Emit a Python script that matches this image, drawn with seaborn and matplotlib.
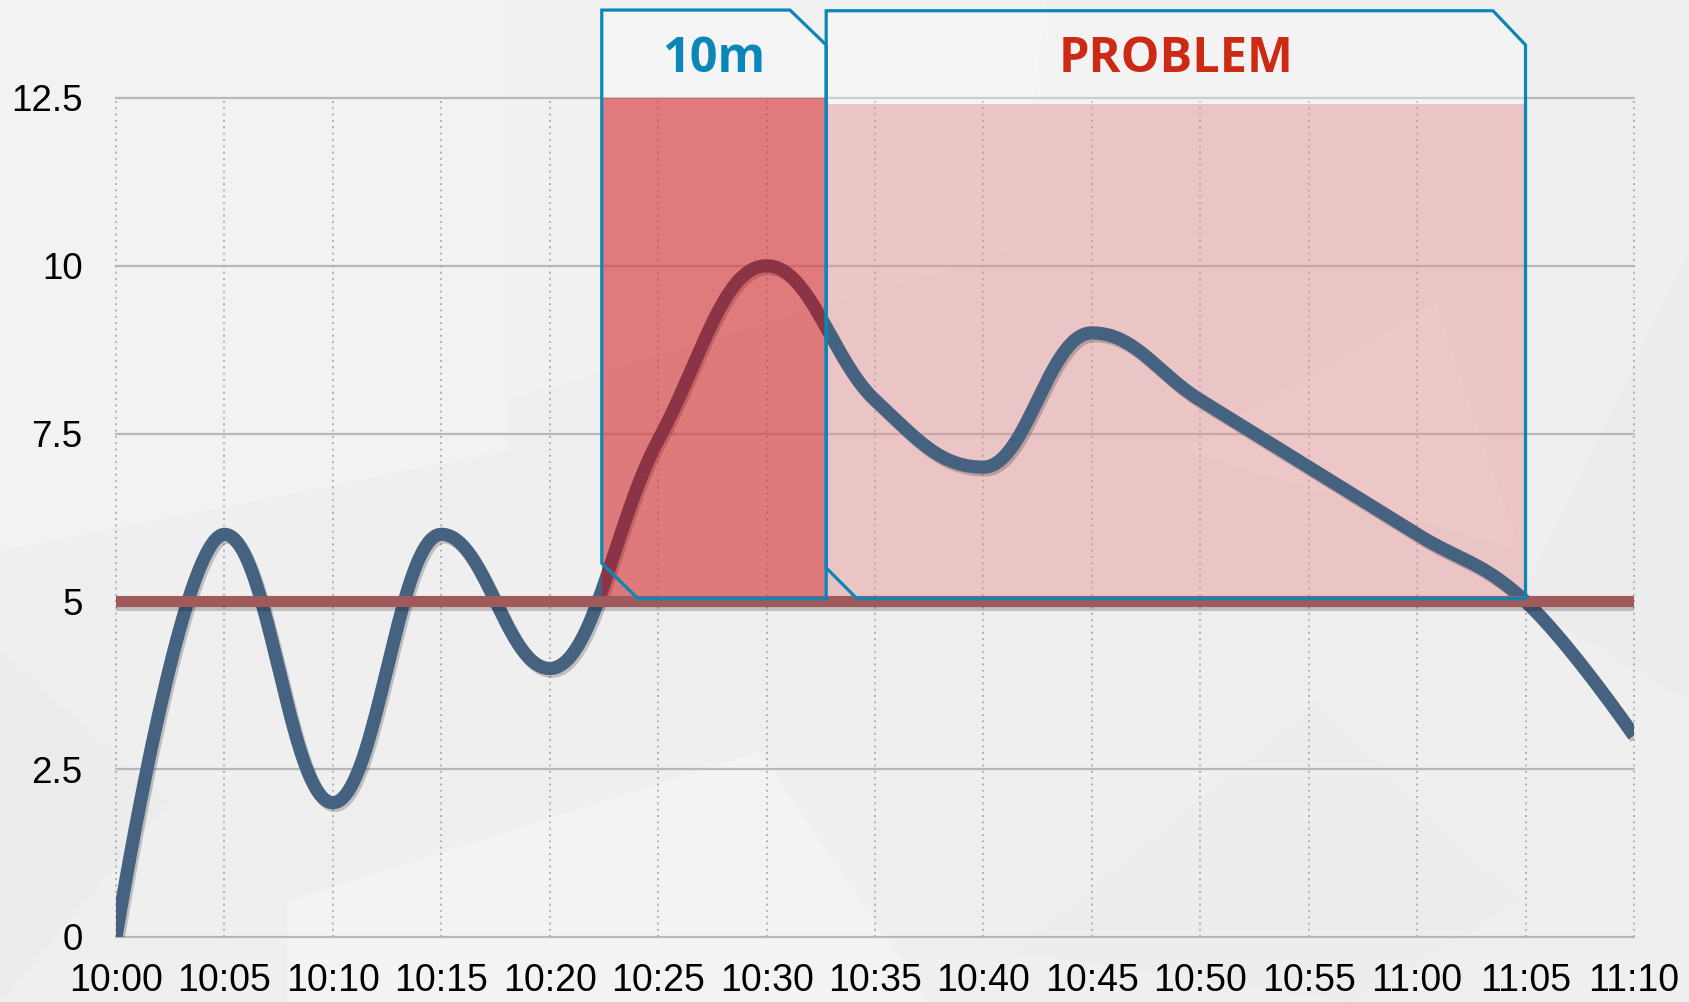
import numpy as np
import pandas as pd
import seaborn as sns
import matplotlib.pyplot as plt
from matplotlib.patches import Polygon, Rectangle
import matplotlib.patheffects as pe

# data (minutes after 10:00)
minutes = [0, 5, 10, 15, 20, 25, 30, 35, 40, 45, 50, 55, 60, 65, 70]
values = [0, 6, 2, 6, 4, 7.4, 10, 8, 7, 9, 8, 7, 6, 5, 3]
tick_labels = ['10:00', '10:05', '10:10', '10:15', '10:20', '10:25', '10:30', '10:35',
               '10:40', '10:45', '10:50', '10:55', '11:00', '11:05', '11:10']
y_ticks = [0, 2.5, 5, 7.5, 10, 12.5]
y_tick_labels = ['0', '2.5', '5', '7.5', '10', '12.5']
threshold = 5
alert_start = 22.4      # line crosses threshold
alert_end = 32.75       # +10m
problem_end = 65


# Highcharts-like spline (bezier control points, no overshoot at extremes)
def spline_xy(xs, ys, smoothing=1.5, steps=40):
    n = len(xs)
    denom = smoothing + 1
    left = [(xs[i], ys[i]) for i in range(n)]
    right = [(xs[i], ys[i]) for i in range(n)]
    for i in range(1, n - 1):
        px, py = xs[i], ys[i]
        lx, ly = xs[i - 1], ys[i - 1]
        nx, ny = xs[i + 1], ys[i + 1]
        lcx = (smoothing * px + lx) / denom
        lcy = (smoothing * py + ly) / denom
        rcx = (smoothing * px + nx) / denom
        rcy = (smoothing * py + ny) / denom
        if rcx != lcx:
            corr = ((rcy - lcy) * (rcx - px)) / (rcx - lcx) + py - rcy
            lcy += corr
            rcy += corr
        if lcy > max(ly, py):
            lcy = max(ly, py)
            rcy = 2 * py - lcy
        elif lcy < min(ly, py):
            lcy = min(ly, py)
            rcy = 2 * py - lcy
        if rcy > max(ny, py):
            rcy = max(ny, py)
            lcy = 2 * py - rcy
        elif rcy < min(ny, py):
            rcy = min(ny, py)
            lcy = 2 * py - rcy
        left[i] = (lcx, lcy)
        right[i] = (rcx, rcy)
    t = np.linspace(0, 1, steps)[:, None]
    out = []
    for i in range(n - 1):
        p0 = np.array([xs[i], ys[i]])
        p1 = np.array(right[i])
        p2 = np.array(left[i + 1])
        p3 = np.array([xs[i + 1], ys[i + 1]])
        seg = (1 - t) ** 3 * p0 + 3 * (1 - t) ** 2 * t * p1 + 3 * (1 - t) * t ** 2 * p2 + t ** 3 * p3
        out.append(seg if i == 0 else seg[1:])
    out = np.vstack(out)
    return out[:, 0], out[:, 1]


sns.set_style('white')
plt.rcParams['font.family'] = ['Liberation Sans', 'DejaVu Sans']

fig = plt.figure(figsize=(16.89, 10.02), dpi=100)
fig.patch.set_facecolor('#efefef')

# very faint faceted background
bg = fig.add_axes([0, 0, 1, 1], zorder=-10)
bg.set_xlim(0, 1)
bg.set_ylim(0, 1)
bg.axis('off')
bg_shapes = [
    ([(0.0, 0.45), (0.3, 0.55), (0.3, 1.0), (0.0, 1.0)], '#f2f2f2'),
    ([(0.3, 0.6), (0.6, 0.75), (0.62, 1.0), (0.3, 1.0)], '#f1f1f1'),
    ([(0.17, 0.1), (0.45, 0.25), (0.55, 0.0), (0.17, 0.0)], '#f3f3f3'),
    ([(0.6, 0.05), (0.78, 0.3), (0.9, 0.1), (0.8, 0.0)], '#ededed'),
    ([(0.7, 0.55), (0.85, 0.7), (0.9, 0.45)], '#f3f3f3'),
    ([(0.9, 0.4), (1.0, 0.3), (1.0, 0.75)], '#ececec'),
    ([(0.0, 0.0), (0.1, 0.2), (0.0, 0.35)], '#ececec'),
]
for pts, c in bg_shapes:
    bg.add_patch(Polygon(pts, closed=True, facecolor=c, edgecolor='none'))

ax = fig.add_axes([0.0687, 0.0649, 0.8987, 0.8373])
ax.set_facecolor('none')
ax.set_xlim(0, 70)
ax.set_ylim(0, 12.5)

# grid
for y in y_ticks:
    ax.axhline(y, color='#b8b8b8', lw=1.6, zorder=0.5, clip_on=False)
for x in minutes:
    ax.axvline(x, color='#a8a8a8', lw=1.3, ls=(0, (1, 2.5)), zorder=0.5, clip_on=False)

# problem areas
ax.add_patch(Rectangle((alert_end, threshold), problem_end - alert_end, 12.41 - threshold,
                       facecolor='#cc0a0f', alpha=0.2, edgecolor='none', zorder=1))
ax.add_patch(Rectangle((alert_start, threshold), alert_end - alert_start, 12.5 - threshold,
                       facecolor='#cc0a0f', alpha=0.52, edgecolor='none', zorder=3))

# threshold
ax.axhline(threshold, color='#a15a5c', lw=8, zorder=4,
           path_effects=[pe.SimpleLineShadow(offset=(0, -2.5), alpha=0.2), pe.Normal()])

# series
sx, sy = spline_xy(minutes, values)
df = pd.DataFrame({'t': sx, 'v': sy})
sns.lineplot(data=df, x='t', y='v', sort=False, ax=ax, color='#456280', lw=9.5, zorder=2,
             path_effects=[pe.SimpleLineShadow(offset=(1.5, -2), alpha=0.2), pe.Normal()])
ax.lines[-1].set_solid_capstyle('butt')

# callout outlines
box_10m = [(alert_start, 13.81), (31.08, 13.81), (alert_end, 13.29), (alert_end, 5.04),
           (24.07, 5.04), (alert_start, 5.57)]
box_problem = [(alert_end, 13.80), (63.5, 13.80), (problem_end, 13.29), (problem_end, 5.04),
               (34.17, 5.04), (alert_end, 5.50)]
for pts in (box_10m, box_problem):
    ax.add_patch(Polygon(pts, closed=True, facecolor='white', alpha=0.3, edgecolor='none',
                         zorder=0.8, clip_on=False))
    ax.add_patch(Polygon(pts, closed=True, facecolor='none', edgecolor='#0a86b8', lw=2.3,
                         zorder=6, clip_on=False, joinstyle='miter'))

ax.text((alert_start + alert_end) / 2, 13.07, '10m', ha='center', va='center', fontsize=35,
        fontweight='bold', color='#0a86b8', family=['Open Sans', 'DejaVu Sans'], zorder=7)
ax.text((alert_end + problem_end) / 2, 13.07, 'PROBLEM', ha='center', va='center', fontsize=35,
        fontweight='bold', color='#cc2a14', family=['Open Sans', 'DejaVu Sans'], zorder=7)

ax.set_xticks(minutes)
ax.set_xticklabels(tick_labels)
ax.set_yticks(y_ticks)
ax.set_yticklabels(y_tick_labels)
ax.tick_params(axis='x', length=0, pad=19, labelsize=27, colors='black')
ax.tick_params(axis='y', length=0, pad=24, labelsize=26.5, colors='black')
ax.set_xlabel('')
ax.set_ylabel('')
for s in ax.spines.values():
    s.set_visible(False)

fig.savefig('out.png', dpi=100, facecolor=fig.get_facecolor())
